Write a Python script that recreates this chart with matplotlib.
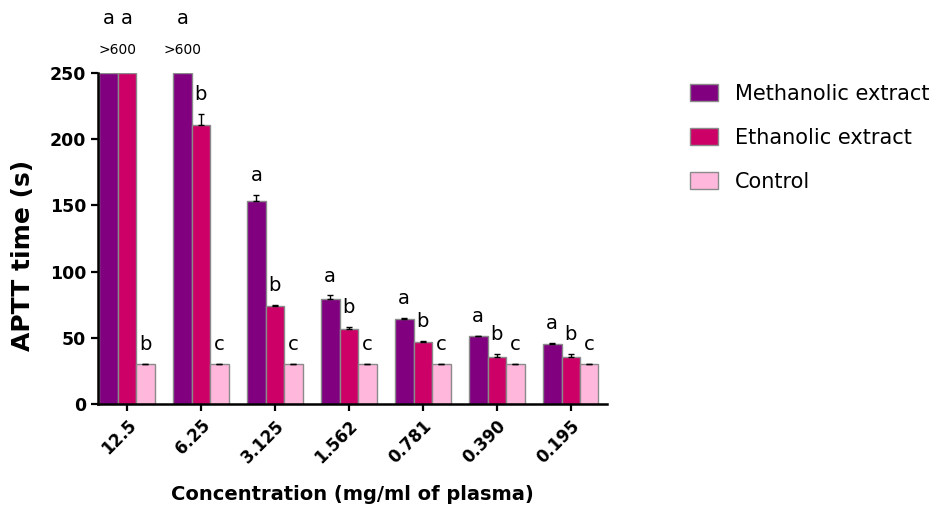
import matplotlib
matplotlib.use("Agg")
import matplotlib.pyplot as plt
import numpy as np

categories = ["12.5", "6.25", "3.125", "1.562", "0.781", "0.390", "0.195"]
series_names = ["Methanolic extract", "Ethanolic extract", "Control"]
# displayed values (bars exceeding the axis are shown capped at 250, true value >600)
meth = [250, 250, 153, 79, 64, 51, 45]
meth_err = [0, 0, 5, 3, 1, 0.5, 1]
eth = [250, 211, 74, 57, 47, 35.5, 35.5]
eth_err = [0, 8, 0.5, 1.5, 0.5, 2.5, 2.5]
ctrl = [30, 30, 30, 30, 30, 30, 30]
ctrl_err = [0.5, 0.5, 0.5, 0.5, 0.5, 0.5, 0.5]
meth_letters = ["a", "a", "a", "a", "a", "a", "a"]
eth_letters = ["a", "b", "b", "b", "b", "b", "b"]
ctrl_letters = ["b", "c", "c", "c", "c", "c", "c"]
over_label = ">600"
ymax = 250

colors = ["#800080", "#CC0066", "#FFB8DC"]
edge = "#8a8a8a"

fig = plt.figure(figsize=(9.35, 5.08), dpi=100)
ax = fig.add_axes([0.1048, 0.2047, 0.5444, 0.6516])

x = np.arange(len(categories))
w = 0.25
offsets = [-w, 0, w]
vals = [meth, eth, ctrl]
errs = [meth_err, eth_err, ctrl_err]
letters = [meth_letters, eth_letters, ctrl_letters]

for i in range(3):
    v = np.array(vals[i], dtype=float)
    e = np.array(errs[i], dtype=float)
    ax.bar(x + offsets[i], v, width=w, color=colors[i], edgecolor=edge,
           linewidth=1.0, label=series_names[i], zorder=2)
    m = e > 0
    ax.errorbar((x + offsets[i])[m], v[m], yerr=[np.zeros(m.sum()), e[m]], fmt="none",
                ecolor="black", elinewidth=1.0, capsize=2.5, capthick=1.0, zorder=3)

for g in range(len(categories)):
    capped = [i for i in range(3) if vals[i][g] >= ymax]
    if capped:
        cx = np.mean([x[g] + offsets[i] for i in capped])
        ax.annotate(over_label, (cx, ymax), xytext=(0, 14), textcoords="offset points",
                    ha="center", va="baseline", fontsize=10, annotation_clip=False)
    for i in range(3):
        xi = x[g] + offsets[i]
        if i in capped:
            ax.annotate(letters[i][g], (xi, ymax), xytext=(0, 35), textcoords="offset points",
                        ha="center", va="baseline", fontsize=14, annotation_clip=False)
        else:
            top = vals[i][g] + errs[i][g]
            ax.annotate(letters[i][g], (xi, top), xytext=(0, 10), textcoords="offset points",
                        ha="center", va="baseline", fontsize=14, annotation_clip=False)

ax.set_xlim(-0.39, 6.49)
ax.set_ylim(0, ymax)
ax.set_yticks([0, 50, 100, 150, 200, 250])
ax.set_xticks(x)
ax.set_xticklabels(categories, rotation=45, ha="right", rotation_mode="anchor",
                   fontweight="bold", fontsize=12)
for lab in ax.get_yticklabels():
    lab.set_fontweight("bold")
    lab.set_fontsize(12.5)
ax.tick_params(axis="both", direction="out", length=5, width=1.6, color="black")
ax.tick_params(axis="x", pad=4)
for s in ["top", "right"]:
    ax.spines[s].set_visible(False)
for s in ["left", "bottom"]:
    ax.spines[s].set_linewidth(1.8)

ax.set_ylabel("APTT time (s)", fontsize=18, fontweight="bold")
ax.yaxis.set_label_coords((35 - 98) / 509, 0.45)
ax.set_xlabel("Concentration (mg/ml of plasma)", fontsize=14, fontweight="bold", labelpad=13)

fig.legend(loc="upper left", bbox_to_anchor=(0.738, 0.835), frameon=False,
           fontsize=15, handlelength=1.35, handleheight=0.87, handletextpad=0.8,
           labelspacing=1.15, borderpad=0, borderaxespad=0)

fig.savefig("out.png", dpi=100)
